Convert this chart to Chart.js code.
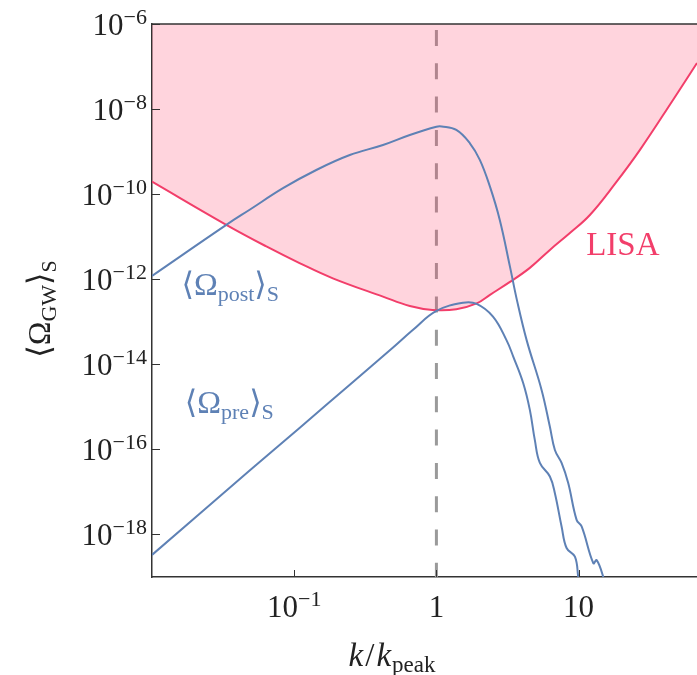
<!DOCTYPE html>
<html>
<head>
<meta charset="utf-8">
<script src="https://cdn.jsdelivr.net/npm/chart.js@4.4.1/dist/chart.umd.min.js"></script>
<style>
  html, body { margin: 0; padding: 0; background: #fff; }
  #wrap { width: 697px; height: 675px; }
</style>
</head>
<body>
<div id="wrap"><canvas id="gw" width="697" height="675"></canvas></div>
<script>
// LISA sensitivity curve
const lisaK = [0.01, 0.0333, 0.0637, 0.109, 0.187, 0.421, 0.65, 0.94, 1.38, 1.92, 2.38, 3.29, 4.54, 6.28, 8.68, 12.0, 18.0, 27.0, 46.1, 68];
const lisaOmega = [1.97e-10, 1.9e-11, 5.9e-12, 2.4e-12, 1.05e-12, 3.9e-13, 2.35e-13, 1.9e-13, 1.97e-13, 2.7e-13, 4.3e-13, 8.65e-13, 1.85e-12, 4.89e-12, 1.22e-11, 3.24e-11, 1.74e-10, 1.1e-9, 1.64e-8, 1.21e-7];

// <Omega_post>_S
const postK = [0.01, 0.0333, 0.0486, 0.0834, 0.143, 0.246, 0.421, 0.65, 1.0, 1.09, 1.38, 1.72, 2.02, 2.38, 2.79, 3.29, 3.68, 4.31, 5.49, 6.28, 6.81, 7.59, 8.45, 9.68, 10.5, 12.7, 13.4, 14.9, 15.6];
const postOmega = [1.2e-12, 1.9e-11, 4.3e-11, 1.38e-10, 3.7e-10, 8.3e-10, 1.43e-9, 2.46e-9, 3.85e-9, 3.9e-9, 3.23e-9, 1.57e-9, 6.4e-10, 1.5e-10, 2.48e-11, 1.98e-12, 3.27e-13, 3.7e-14, 2.5e-15, 3.4e-16, 9.7e-17, 4.8e-17, 1.62e-17, 2.2e-18, 1.54e-18, 2.1e-19, 2.5e-19, 1.0e-19, 4.7e-20];

// <Omega_pre>_S
const preK = [0.01, 0.0486, 0.109, 0.246, 0.493, 0.682, 1.0, 1.54, 1.92, 2.50, 3.11, 3.47, 4.08, 4.54, 4.92, 5.34, 6.28, 6.81, 7.59, 8.23, 9.42, 9.94, 10.2];
const preOmega = [3.3e-19, 3.2e-17, 3.2e-16, 3.3e-15, 2.45e-14, 6.4e-14, 1.8e-13, 2.8e-13, 2.63e-13, 1.32e-13, 3.7e-14, 1.52e-14, 3.6e-15, 8.5e-16, 1.67e-16, 4.8e-17, 2.3e-17, 9.3e-18, 1.54e-18, 4.8e-19, 3.0e-19, 1.0e-19, 5e-20];

// k = k_peak marker
const peakK = [1, 1];
const peakOmega = [1e-6, 1e-19];

// ticks
const xTicks = [0.1, 1, 10];
const xTickBase = ["10", "1", "10"];
const xTickExp = ["\u22121", "", ""];
const yTicks = [1e-6, 1e-8, 1e-10, 1e-12, 1e-14, 1e-16, 1e-18];
const yTickExp = ["\u22126", "\u22128", "\u221210", "\u221212", "\u221214", "\u221216", "\u221218"];

const BLUE = "#5e81b5";
const RED = "#f23e6a";
const SERIF = '"Liberation Serif", "DejaVu Serif", "DejaVu Sans", serif';

const pts = (ks, vs) => ks.map((k, i) => ({ x: k, y: vs[i] }));

// text pieces: [text, size, dy, style, extra gap]
function rich(ctx, parts, x, y, align) {
  let w = 0;
  const ws = parts.map(p => {
    ctx.font = (p[3] || "") + " " + p[1] + "px " + SERIF;
    const m = ctx.measureText(p[0]).width + (p[4] || 0);
    w += m;
    return m;
  });
  let cx = align === "right" ? x - w : align === "center" ? x - w / 2 : x;
  ctx.textAlign = "left";
  ctx.textBaseline = "alphabetic";
  parts.forEach((p, i) => {
    ctx.font = (p[3] || "") + " " + p[1] + "px " + SERIF;
    ctx.fillText(p[0], cx, y + (p[2] || 0));
    cx += ws[i];
  });
}

const axisText = {
  id: "axisText",
  afterDraw(chart) {
    const { ctx, chartArea: a, scales: { x, y } } = chart;
    ctx.save();
    // top frame line
    ctx.strokeStyle = "#333";
    ctx.lineWidth = 1.5;
    ctx.beginPath();
    ctx.moveTo(a.left, a.top);
    ctx.lineTo(a.right, a.top);
    ctx.stroke();

    // inward ticks
    ctx.lineWidth = 1;
    ctx.beginPath();
    yTicks.forEach(v => {
      const py = Math.round(y.getPixelForValue(v)) + 0.5;
      ctx.moveTo(a.left, py);
      ctx.lineTo(a.left + 8, py);
    });
    xTicks.forEach(v => {
      const px = Math.round(x.getPixelForValue(v)) + 0.5;
      ctx.moveTo(px, a.bottom);
      ctx.lineTo(px, a.bottom - 7);
    });
    ctx.stroke();

    ctx.fillStyle = "#222";
    yTicks.forEach((v, i) => {
      const py = y.getPixelForValue(v);
      rich(ctx, [["10", 31], [yTickExp[i], 22, -11]], a.left - 5, py + 11, "right");
    });
    xTicks.forEach((v, i) => {
      const px = x.getPixelForValue(v);
      const parts = [[xTickBase[i], 31]];
      if (xTickExp[i]) parts.push([xTickExp[i], 22, -11]);
      rich(ctx, parts, px, a.bottom + 40, "center");
    });

    // axis titles
    rich(ctx, [["k", 33, 0, "italic", 2], ["/", 33, 0, "", 2], ["k", 33, 0, "italic", 1], ["peak", 23, 6]], 392, 666, "center");
    ctx.save();
    ctx.translate(50, 309);
    ctx.rotate(-Math.PI / 2);
    rich(ctx, [["\u27e8", 32], ["\u03a9", 32], ["GW", 22, 6], ["\u27e9", 32], ["S", 22, 6]], 0, 0, "center");
    ctx.restore();

    // curve labels
    ctx.fillStyle = BLUE;
    rich(ctx, [["\u27e8", 32], ["\u03a9", 32], ["post", 22, 6], ["\u27e9", 32], ["S", 22, 6]],
      x.getPixelForValue(0.0161), y.getPixelForValue(4.3e-13), "left");
    rich(ctx, [["\u27e8", 32], ["\u03a9", 32], ["pre", 22, 6], ["\u27e9", 32], ["S", 22, 6]],
      x.getPixelForValue(0.017), y.getPixelForValue(7.2e-16), "left");
    ctx.fillStyle = RED;
    rich(ctx, [["LISA", 33]], x.getPixelForValue(11.3), y.getPixelForValue(3.7e-12), "left");
    ctx.restore();
  }
};

new Chart(document.getElementById("gw"), {
  type: "line",
  data: {
    datasets: [
      {
        label: "post",
        data: pts(postK, postOmega),
        borderColor: BLUE,
        borderWidth: 2,
        pointRadius: 0,
        tension: 0.4,
        fill: false,
        order: 0
      },
      {
        label: "pre",
        data: pts(preK, preOmega),
        borderColor: BLUE,
        borderWidth: 2,
        pointRadius: 0,
        tension: 0.4,
        fill: false,
        order: 0
      },
      {
        label: "LISA",
        data: pts(lisaK, lisaOmega),
        borderColor: RED,
        backgroundColor: "rgba(255, 60, 100, 0.22)",
        borderWidth: 2,
        pointRadius: 0,
        tension: 0.4,
        fill: "end",
        order: 1
      },
      {
        label: "peak",
        data: pts(peakK, peakOmega),
        borderColor: "#9a9a9a",
        borderWidth: 3,
        borderDash: [16, 17.3],
        borderDashOffset: 27.3,
        pointRadius: 0,
        fill: false,
        order: 2
      }
    ]
  },
  options: {
    responsive: false,
    animation: false,
    devicePixelRatio: 1,
    layout: { padding: { top: 24, right: 0, left: 0, bottom: 0 } },
    plugins: { legend: { display: false }, tooltip: { enabled: false } },
    scales: {
      x: {
        type: "logarithmic",
        min: 0.01,
        max: 68,
        grid: { display: false },
        border: { display: true, color: "#333", width: 1.5 },
        ticks: { display: false },
        afterFit: s => { s.height = 98; }
      },
      y: {
        type: "logarithmic",
        min: 1e-19,
        max: 1e-6,
        grid: { display: false },
        border: { display: true, color: "#333", width: 1.5 },
        ticks: { display: false },
        afterFit: s => { s.width = 152; }
      }
    }
  },
  plugins: [axisText]
});
</script>
</body>
</html>
